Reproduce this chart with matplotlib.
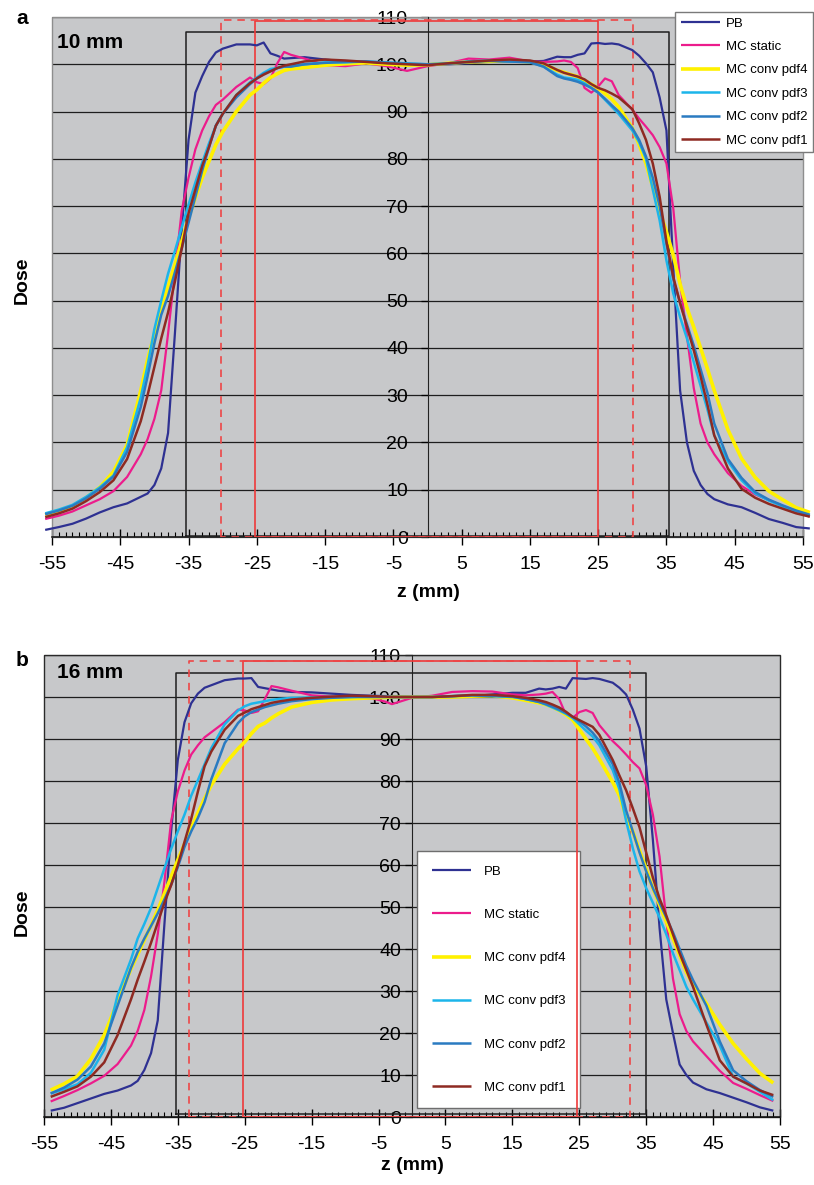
import matplotlib

matplotlib.use("Agg")
import matplotlib.pyplot as plt
from matplotlib.patches import Rectangle
from matplotlib.ticker import MultipleLocator

plt.rcParams["font.family"] = ["Liberation Sans", "DejaVu Sans"]
plt.rcParams["axes.unicode_minus"] = False

# ---- panel a: 10 mm ----
za = [-56, -54, -52, -50, -48, -46, -44, -42, -41, -40, -39, -38, -37, -36, -35, -34, -33, -32,
      -31, -30, -28, -26, -25, -24, -23, -22, -21, -20, -18, -15, -12, -9, -6, -3, 0,
      3, 6, 9, 12, 15, 17, 19, 20, 21, 22, 23, 24, 25, 26, 27, 28, 30, 31, 32, 33,
      34, 35, 36, 37, 38, 39, 40, 41, 42, 44, 46, 48, 50, 52, 54, 56]
pb_a = [1.5, 2.1, 2.8, 3.9, 5.2, 6.3, 7.1, 8.5, 9.2, 11.0, 14.5, 22, 43, 65, 84, 94, 97.5, 100.5,
        102.5, 103.3, 104.2, 104.2, 104.0, 104.6, 102.3, 101.8, 101.2, 101.3, 101.5, 101.0, 100.6,
        100.4, 100.2, 99.9, 99.8,
        100.0, 100.2, 100.5, 100.6, 100.6, 100.7, 101.6, 101.5, 101.5, 102, 102.3, 104.4, 104.5,
        104.3, 104.4, 104.2, 103.0, 101.8, 100.2, 98.3, 93, 86, 57, 31, 20, 14, 11, 9.1, 8.0, 6.9,
        6.3, 5.1, 3.8, 3.0, 2.1, 1.8]
static_a = [3.8, 4.5, 5.4, 6.7, 8.0, 9.7, 12.7, 17.5, 20.7, 25, 31, 43, 56, 69, 76, 82, 86, 89,
            91.4, 92.5, 95.2, 97.2, 96.2, 95.8, 97, 100.2, 102.6, 102, 101.2, 99.8, 99.6, 100.2,
            99.6, 98.6, 99.6,
            100.2, 101.2, 101, 101.4, 100.6, 100.5, 100.6, 100.8, 100.5, 99.2, 95, 94, 95.3, 97,
            96.4, 93.5, 90.4, 88.5, 86.8, 85, 82.5, 79, 69.5, 54, 42.5, 31.5, 24, 20, 17.5, 13.5,
            10.8, 9.0, 7.8, 6.6, 5.3, 4.3]
pdf4_a = [4.7, 5.6, 6.5, 8.3, 10.5, 13.8, 19.5, 31, 37.5, 43, 48.7, 53, 57.6, 62.5, 67.5, 71.8,
          76, 79.5, 83, 85.7, 90, 93.5, 94.6, 96, 97.2, 98, 98.7, 99, 99.3, 99.8, 100.1, 100.3,
          100, 99.8, 99.9,
          100.2, 100.5, 100.6, 100.8, 100.5, 100, 98.7, 98.3, 97.8, 97.4, 96.5, 95.8, 94.9, 93.8,
          92.6, 91, 86.5, 83, 79, 74, 69, 64.5, 59.6, 53.5, 48.5, 44.4, 40, 35.6, 31, 22.7,
          16.6, 12.6, 9.7, 7.9, 6.2, 5.2]
pdf3_a = [5, 5.8, 6.8, 8.5, 10.5, 13, 19, 29.5, 36.3, 44, 50, 55.7, 60.5, 65.5, 70.3, 75, 79.2,
          83.3, 87, 89.5, 93.5, 96.2, 97.2, 98.2, 99, 99.2, 99.5, 99.6, 100, 100.4, 100.4, 100.6,
          100.4, 100.2, 100,
          100.2, 100.6, 100.8, 100.6, 100.5, 99.5, 97.8, 97.2, 97, 96.7, 96, 95, 94, 92.5, 91,
          89.5, 86, 83.5, 80, 73.5, 67, 58.5, 51.5, 46.5, 42, 37, 32, 27, 21.5, 16,
          12, 9.2, 7.7, 6.5, 5.4, 4.6]
pdf2_a = [4.8, 5.6, 6.6, 8.2, 10.2, 12.8, 18, 27.5, 34, 41, 47, 51, 56, 61, 66.5, 72, 77.5, 82.5,
          87, 89.5, 93, 95.8, 97, 98, 98.6, 99.2, 99.5, 99.5, 100, 100.3, 100.5, 100.6, 100.3,
          100.1, 100,
          100.1, 100.5, 100.7, 100.6, 100.4, 99.5, 97.5, 97, 96.7, 96.3, 95.7, 95, 94, 92.7,
          91.3, 90, 86.5, 84, 80.5, 76, 70, 62, 54.5, 49.5, 45, 40.5, 35.5, 30.5, 24, 16.5,
          12.5, 9.5, 7.9, 6.7, 5.6, 4.7]
pdf1_a = [4.2, 5, 6, 7.6, 9.5, 12, 16.5, 24.5, 30, 36, 42, 47.5, 54, 61, 68.5, 73.5, 78.5, 82.5,
          87, 89.5, 93.5, 96, 97, 97.8, 98.5, 99.2, 99.7, 100, 100.6, 101, 100.8, 100.5, 100.2,
          100, 99.8,
          100.2, 100.5, 100.8, 101, 100.8, 100.2, 98.8, 98.2, 97.8, 97.4, 96.8, 95.8, 95, 94.5,
          93.8, 93, 90.5, 87.5, 84, 79, 72, 62.5, 55, 49.5, 44.5, 39.5, 34, 28, 21.5, 14.5,
          10.2, 8.3, 7, 6, 5, 4.3]

# ---- panel b: 16 mm ----
zb = [-54, -52, -50, -48, -46, -44, -42, -41, -40, -39, -38, -37, -36, -35, -34, -33, -32, -31,
      -30, -28, -26, -25, -24, -23, -22, -21, -20, -18, -15, -12, -9, -6, -4, -3, 0,
      3, 6, 9, 12, 15, 17, 19, 20, 21, 22, 23, 24, 25, 26, 27, 28, 30, 31, 32, 33,
      34, 35, 36, 37, 38, 39, 40, 41, 42, 44, 46, 48, 50, 52, 54]
pb_b = [1.5, 2.2, 3.3, 4.4, 5.5, 6.3, 7.5, 8.6, 11.2, 15.2, 23, 46, 68, 85, 94, 98.5, 100.8,
        102.2, 102.8, 104, 104.4, 104.4, 104.5, 102.4, 102.1, 101.8, 101.5, 101.2, 101.1, 100.8,
        100.5, 100.3, 100.2, 100.1, 100,
        100, 100, 100.2, 100.6, 101, 101, 102, 101.8, 102, 102.4, 102, 104.5, 104.4, 104.3, 104.5,
        104.3, 103.4, 102.2, 100.6, 97, 92.5, 83.5, 66, 45, 28, 20, 12.5, 10, 8.2, 6.6,
        5.7, 4.6, 3.5, 2.3, 1.5]
static_b = [3.7, 5, 6.4, 8, 9.8, 12.6, 17, 20.5, 25.5, 33.5, 43.5, 56, 70.5, 77.5, 82.5, 86.3,
            88.5, 90.4, 91.6, 94, 97, 96.8, 96.2, 96.6, 99.5, 102.6, 102.3, 101.5, 100.4, 100.1,
            99.7, 99.7, 98.9, 98.3, 99.8,
            100.3, 101.2, 101.4, 101.3, 100.6, 100.4, 100.6, 100.8, 101.2, 99.5, 95.8, 95, 96.4,
            96.9, 96.2, 93.3, 89.5, 88, 86.3, 84.5, 83, 79, 72, 62, 47, 33, 24.5, 20.5, 18, 14.5,
            11, 8.1, 6.7, 5.2, 3.8]
pdf4_b = [6.4, 7.9, 9.7, 13.8, 19.5, 27.5, 35.3, 38.7, 42.2, 45.6, 49.3, 53.2, 57.2, 61.2, 65,
          68.8, 72.4, 75.8, 79, 84, 87.7, 89.3, 91.3, 93, 93.8, 95, 96, 97.6, 98.7, 99.3, 99.6,
          99.8, 99.9, 100, 100,
          100, 100, 100.2, 100.3, 99.8, 99.2, 98.6, 98.2, 97.6, 96.8, 95.8, 94.6, 92.3, 90, 87.8,
          85.2, 79.7, 76.5, 71.5, 68, 63.5, 59, 54.5, 50.5, 46.5, 42.5, 38.5, 34.5, 31.5, 27,
          22, 17.5, 13.8, 10.4, 8.1]
pdf3_b = [5.6, 6.6, 7.8, 10.5, 16, 29, 37.5, 42.5, 46, 49.8, 54.5, 59.2, 63.8, 68, 72, 76.5,
          80.2, 84, 87.8, 93.5, 96.8, 97.8, 98.4, 98.7, 99, 99.3, 99.5, 99.8, 99.9, 100, 100,
          100.2, 100.2, 100, 100,
          100, 100.2, 100.4, 100.2, 100, 99.5, 98.8, 98.2, 97.5, 96.8, 96, 95, 93.5, 92, 90.6,
          88.5, 82.6, 78, 70.5, 64, 58.5, 54.5, 51, 47.5, 43.5, 39, 35, 31, 28, 22.5,
          17, 9.6, 8, 6, 4]
pdf2_b = [5.6, 7, 8.9, 12, 17.5, 26.5, 35.5, 39.3, 42.5, 45.5, 48.5, 51.8, 55.3, 59.5, 64.3, 68,
          71.2, 75, 80.4, 89, 93.8, 95.4, 96.4, 97, 97.6, 98, 98.4, 99, 99.5, 99.8, 100, 100,
          100, 100, 100,
          100, 100.2, 100.4, 100.3, 100.1, 99.5, 98.8, 98.3, 97.7, 97, 96.2, 95.3, 94.2, 93,
          91.5, 89.5, 84, 79.5, 73, 68, 63, 58.5, 54.5, 51, 47.5, 44, 40, 36, 32.6, 26.5,
          18, 11.1, 8.5, 6.4, 4.8]
pdf1_b = [4.8, 6, 7.3, 9.6, 13, 19.5, 28, 32.7, 37, 41.5, 46.3, 51, 55.2, 60, 65.5, 71, 77.5,
          83.5, 87, 92.2, 95.5, 96.3, 97.1, 97.6, 98.1, 98.6, 98.9, 99.4, 99.8, 100.1, 100.3,
          100.2, 100.1, 100, 100,
          100, 100.2, 100.5, 100.5, 100.2, 99.8, 99.2, 98.8, 98.2, 97.5, 96.5, 95.3, 94.5, 93.7,
          92.9, 91, 85, 81.3, 77.8, 73.5, 69, 63, 57, 52, 48, 43.5, 39, 35, 31, 22,
          13.5, 9.6, 8, 6.3, 5.2]

labels = ["PB", "MC static", "MC conv pdf4", "MC conv pdf3", "MC conv pdf2", "MC conv pdf1"]
colors = ["#2E3192", "#EC1C8C", "#FFF100", "#1CB5EA", "#2A7BC1", "#8E2A22"]
widths = [1.6, 1.6, 2.6, 1.8, 1.8, 1.8]

xticks = list(range(-55, 56, 10))
xtick_labels = [str(v) for v in xticks]
yticks = list(range(0, 111, 10))

# field outlines: (left, right, top, bottom)
box_a = (-35.3, 35.3, 106.8, 0.3)
red_a = (-25.3, 25.0, 109.1, 0.0)
dash_a = (-30.2, 30.1, 109.4, 0.0)
box_b = (-35.3, 35.0, 105.7, 0.6)
red_b = (-25.3, 24.7, 108.6, 0.0)
dash_b = (-33.3, 32.6, 108.6, 0.0)

BG = "#C7C8CA"


def outline(ax, rect, **kw):
    x0, x1, top, bot = rect
    ax.plot([x0, x0, x1, x1, x0], [bot, top, top, bot, bot], zorder=2.6, **kw)


def setup(ax, z, curves, boxes, frame_color, ypad, overflow):
    ax.set_facecolor(BG)
    ax.set_xlim(-55, 55)
    ax.set_ylim(0, 110)
    for s in ("top", "right"):
        ax.spines[s].set_visible(False)
    ax.spines["left"].set_position(("data", 0))
    ax.spines["left"].set_color("#222222")
    ax.spines["bottom"].set_color("#111111")
    ax.spines["bottom"].set_linewidth(1.1)
    ax.add_patch(Rectangle((0, 0), 1, 1, transform=ax.transAxes, fill=False,
                           edgecolor=frame_color, lw=1.0, clip_on=False, zorder=0.8))
    ax.set_axisbelow(True)
    ax.yaxis.grid(True, color="#1E1E1E", lw=0.9)
    ax.set_yticks(yticks)
    ax.tick_params(axis="y", direction="out", length=5, width=0.9, pad=ypad, labelsize=14)
    ax.set_xticks(xticks, labels=xtick_labels)
    ax.xaxis.set_minor_locator(MultipleLocator(1))
    ax.tick_params(axis="x", which="major", direction="inout", length=11, width=1.0,
                   pad=8.5, labelsize=14)
    ax.tick_params(axis="x", which="minor", direction="in", length=3.5, width=0.8)

    box, red, dash = boxes
    outline(ax, box, color="#1E1E1E", lw=1.1)
    outline(ax, red, color="#EE3A3A", lw=1.2)
    outline(ax, dash, color="#EE4646", lw=1.2, dashes=(4.5, 3.5))

    lines = []
    for y, lab, c, w in zip(curves, labels, colors, widths):
        (ln,) = ax.plot(z, y, color=c, lw=w, label=lab, zorder=3,
                        clip_on=not overflow, solid_capstyle="butt")
        lines.append(ln)
    return lines


fig = plt.figure(figsize=(8.14, 11.85), dpi=100)
W, H = 814, 1185

ax_a = fig.add_axes([52 / W, 1 - 537 / H, (803 - 52) / W, 520 / H])
ax_b = fig.add_axes([44 / W, 1 - 1117 / H, (780 - 44) / W, 462 / H])

lines_a = setup(ax_a, za, [pb_a, static_a, pdf4_a, pdf3_a, pdf2_a, pdf1_a],
                (box_a, red_a, dash_a), "#8E8E8E", 9, True)
lines_b = setup(ax_b, zb, [pb_b, static_b, pdf4_b, pdf3_b, pdf2_b, pdf1_b],
                (box_b, red_b, dash_b), "#2A2A2A", 3, False)

leg_a = ax_a.legend(handles=lines_a, loc="upper right", bbox_to_anchor=(813 / W, 1 - 12 / H),
                    bbox_transform=fig.transFigure, borderaxespad=0, fontsize=9.5,
                    handlelength=3.0, handletextpad=0.45, labelspacing=0.85, borderpad=0.4,
                    fancybox=False, framealpha=1, edgecolor="#7A7A7A")
leg_a.get_frame().set_linewidth(1.0)
leg_a.set_zorder(5)

leg_b = ax_b.legend(handles=lines_b, loc="upper left", bbox_to_anchor=(417 / W, 1 - 851 / H),
                    bbox_transform=fig.transFigure, borderaxespad=0, fontsize=9.5,
                    handlelength=3.0, handletextpad=1.0, labelspacing=2.35, borderpad=1.1,
                    fancybox=False, framealpha=1, edgecolor="#6E6E6E")
leg_b.get_frame().set_linewidth(1.0)
leg_b.set_zorder(2.5)

bold = dict(fontweight="bold")
fig.text(22 / W, 1 - 18 / H, "a", fontsize=15, ha="center", va="center", **bold)
fig.text(22 / W, 1 - 660 / H, "b", fontsize=15, ha="center", va="center", **bold)
fig.text(57 / W, 1 - 42 / H, "10 mm", fontsize=15, ha="left", va="center", **bold)
fig.text(57 / W, 1 - 673 / H, "16 mm", fontsize=15, ha="left", va="center", **bold)
fig.text(22 / W, 1 - 280 / H, "Dose", fontsize=14, rotation=90, ha="center", va="center", **bold)
fig.text(22 / W, 1 - 912 / H, "Dose", fontsize=14, rotation=90, ha="center", va="center", **bold)
fig.text(428 / W, 1 - 592 / H, "z (mm)", fontsize=14, ha="center", va="center", **bold)
fig.text(412 / W, 1 - 1166 / H, "z (mm)", fontsize=14, ha="center", va="center", **bold)

fig.savefig("out.png", dpi=100, facecolor="white")
